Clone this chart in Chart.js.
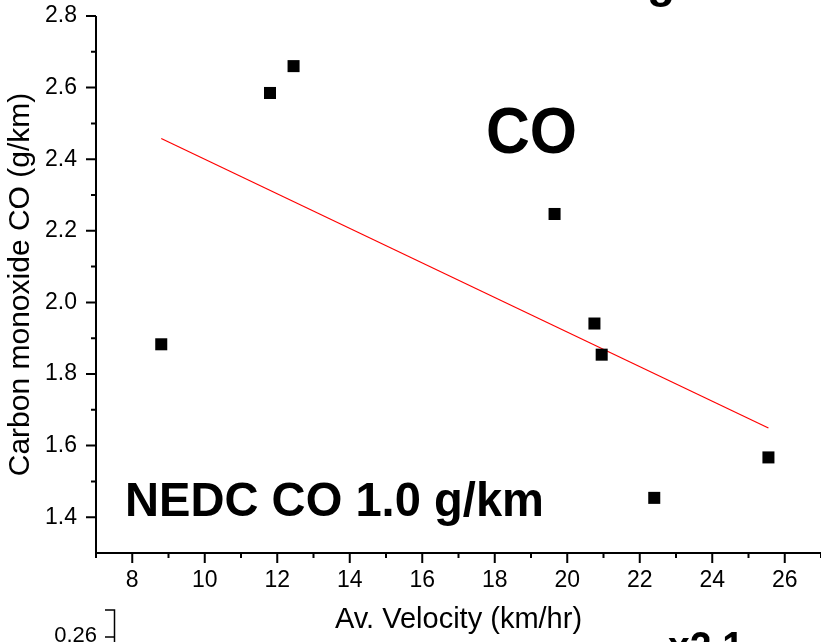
<!DOCTYPE html>
<html>
<head>
<meta charset="utf-8">
<script src="https://cdn.jsdelivr.net/npm/chart.js@4"></script>
<style>
  html, body { margin: 0; padding: 0; background: #fff; }
</style>
</head>
<body>
<canvas id="coChart" width="821" height="642"></canvas>
<script>
// CO emissions per trip
const velocity = [8.8, 11.8, 12.45, 19.65, 20.75, 20.95, 22.4, 25.55];
const carbonMonoxide = [1.883, 2.585, 2.66, 2.247, 1.941, 1.854, 1.454, 1.567];

// trend line end points
const fitVelocity = [8.8, 25.55];
const fitCO = [2.458, 1.649];

// axis ticks
const xTicks = [8, 10, 12, 14, 16, 18, 20, 22, 24, 26];
const xMinorTicks = [7, 9, 11, 13, 15, 17, 19, 21, 23, 25, 27];
const yTicks = [1.4, 1.6, 1.8, 2.0, 2.2, 2.4, 2.6, 2.8];
const yMinorTicks = [1.5, 1.7, 1.9, 2.1, 2.3, 2.5, 2.7];

const FONT = '"Liberation Sans", Arial, Helvetica, sans-serif';
Chart.defaults.font.family = FONT;
Chart.defaults.color = "#000";

// bold text squeezed to the width seen in the picture
function boldText(ctx, text, left, baseline, capHeight, width) {
  const size = capHeight / 0.716;
  ctx.font = "bold " + size + "px " + FONT;
  const natural = ctx.measureText(text).width;
  ctx.save();
  ctx.translate(left, baseline);
  ctx.scale(width ? width / natural : 1, 1);
  ctx.textAlign = "left";
  ctx.textBaseline = "alphabetic";
  ctx.fillStyle = "#000";
  ctx.fillText(text, 0, 0);
  ctx.restore();
}

function noPadding(s) {
  s.paddingTop = 0;
  s.paddingBottom = 0;
  s.paddingLeft = 0;
  s.paddingRight = 0;
}

// axes drawn like the original plot: outward major and minor ticks
const framePlugin = {
  id: "frame",
  afterDraw(chart) {
    const ctx = chart.ctx;
    const x = chart.scales.x;
    const y = chart.scales.y;
    const area = chart.chartArea;
    ctx.save();
    ctx.strokeStyle = "#000";
    ctx.lineWidth = 2;
    ctx.beginPath();
    ctx.moveTo(area.left, area.top);
    ctx.lineTo(area.left, area.bottom);
    ctx.lineTo(area.right, area.bottom);
    xTicks.forEach(v => {
      const px = x.getPixelForValue(v);
      ctx.moveTo(px, area.bottom);
      ctx.lineTo(px, area.bottom + 10);
    });
    xMinorTicks.forEach(v => {
      const px = x.getPixelForValue(v);
      ctx.moveTo(px, area.bottom);
      ctx.lineTo(px, area.bottom + 5);
    });
    yTicks.forEach(v => {
      const py = y.getPixelForValue(v);
      ctx.moveTo(area.left, py);
      ctx.lineTo(area.left - 10, py);
    });
    yMinorTicks.forEach(v => {
      const py = y.getPixelForValue(v);
      ctx.moveTo(area.left, py);
      ctx.lineTo(area.left - 5, py);
    });
    ctx.stroke();

    // annotations inside the plot
    boldText(ctx, "CO", 486, 153, 47, 91);
    boldText(ctx, "NEDC CO 1.0 g/km", 125, 516, 35, 419);

    // pieces of the neighbouring panels cut off by the crop
    boldText(ctx, "g", 647, -3, 33);
    boldText(ctx, "x2.1", 668, 661, 31, 76);

    ctx.lineWidth = 1.5;
    ctx.beginPath();
    ctx.moveTo(105, 610);
    ctx.lineTo(114.5, 610);
    ctx.lineTo(114.5, 642);
    ctx.moveTo(105, 637);
    ctx.lineTo(114.5, 637);
    ctx.stroke();
    ctx.font = "22px " + FONT;
    ctx.fillStyle = "#000";
    ctx.textAlign = "right";
    ctx.textBaseline = "middle";
    ctx.fillText("0.26", 97, 636);
    ctx.restore();
  }
};

const config = {
  type: "scatter",
  data: {
    datasets: [
      {
        label: "CO",
        data: velocity.map((v, i) => ({ x: v, y: carbonMonoxide[i] })),
        pointStyle: "rect",
        pointRadius: 8.5,
        backgroundColor: "#000",
        borderWidth: 0,
      },
      {
        type: "line",
        label: "Linear fit",
        data: fitVelocity.map((v, i) => ({ x: v, y: fitCO[i] })),
        borderColor: "#ff0000",
        borderWidth: 1.2,
        pointRadius: 0,
        fill: false,
      },
    ],
  },
  options: {
    responsive: false,
    animation: false,
    devicePixelRatio: 1,
    layout: { autoPadding: false, padding: { top: 16, right: 0, bottom: 0, left: 0 } },
    plugins: {
      legend: { display: false },
      tooltip: { enabled: false },
    },
    scales: {
      x: {
        type: "linear",
        min: 7,
        max: 27,
        afterBuildTicks: s => { s.ticks = xTicks.map(v => ({ value: v })); },
        afterFit: s => { s.height = 89; noPadding(s); },
        grid: { display: false, drawTicks: false },
        border: { display: false },
        ticks: { font: { size: 23 }, padding: 14, maxRotation: 0, autoSkip: false },
        title: {
          display: true,
          text: "Av. Velocity (km/hr)",
          font: { size: 29 },
          padding: { top: 0, bottom: 5 },
        },
      },
      y: {
        min: 1.3,
        max: 2.8,
        afterBuildTicks: s => { s.ticks = yTicks.map(v => ({ value: v })); },
        afterFit: s => { s.width = 96; noPadding(s); },
        grid: { display: false, drawTicks: false },
        border: { display: false },
        ticks: { font: { size: 23 }, padding: 19, callback: v => v.toFixed(1) },
        title: {
          display: true,
          text: "Carbon monoxide CO (g/km)",
          font: { size: 30 },
          padding: { top: 3, bottom: 0 },
        },
      },
    },
  },
  plugins: [framePlugin],
};

const coChart = new Chart(document.getElementById("coChart"), config);
</script>
</body>
</html>
